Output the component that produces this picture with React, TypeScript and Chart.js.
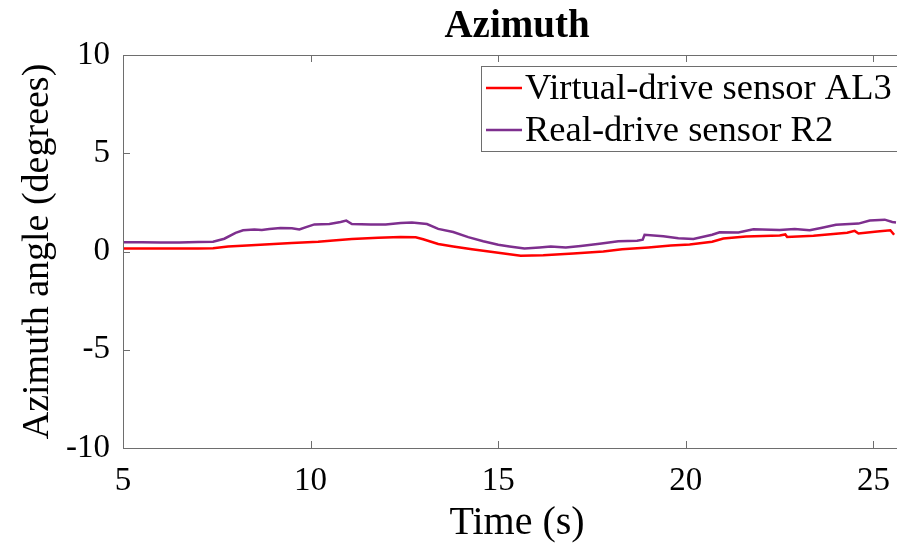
import React, { useEffect, useRef } from "react";
import { Chart, registerables } from "chart.js";

Chart.register(...registerables);

const chartTitle = "Azimuth";
const xAxisTitle = "Time (s)";
const yAxisTitle = "Azimuth angle (degrees)";
const xTickValues = [5, 10, 15, 20, 25];
const yTickValues = [-10, -5, 0, 5, 10];

const redLabel = "Virtual-drive sensor AL3";
const redTimes = [5.0, 5.5, 6.0, 7.0, 7.4, 7.8, 8.3, 8.9, 9.5, 10.2, 10.6, 11.1, 11.8, 12.4, 12.8, 13.0, 13.4, 13.8, 14.3, 14.7, 15.2, 15.6, 16.2, 17.0, 17.8, 18.3, 19.0, 19.6, 20.1, 20.7, 21.0, 21.6, 22.5, 22.65, 22.7, 23.4, 24.3, 24.5, 24.6, 25.1, 25.45, 25.55];
const redValues = [0.15, 0.15, 0.15, 0.15, 0.17, 0.26, 0.3, 0.37, 0.43, 0.5, 0.56, 0.63, 0.7, 0.74, 0.72, 0.62, 0.38, 0.26, 0.12, 0.01, -0.12, -0.21, -0.19, -0.1, 0.0, 0.11, 0.2, 0.3, 0.36, 0.5, 0.66, 0.76, 0.82, 0.87, 0.74, 0.8, 0.95, 1.05, 0.92, 1.02, 1.08, 0.85];

const purpleLabel = "Real-drive sensor R2";
const purpleTimes = [5.0, 5.5, 6.0, 6.5, 7.0, 7.4, 7.7, 8.0, 8.2, 8.5, 8.7, 8.9, 9.2, 9.5, 9.7, 9.9, 10.1, 10.5, 10.8, 10.95, 11.1, 11.6, 12.0, 12.4, 12.7, 12.9, 13.1, 13.4, 13.8, 14.2, 14.6, 15.0, 15.3, 15.7, 16.1, 16.4, 16.8, 17.2, 17.7, 18.2, 18.7, 18.85, 18.9, 19.4, 19.8, 20.2, 20.7, 20.9, 21.4, 21.8, 22.5, 22.9, 23.3, 23.6, 24.0, 24.6, 24.9, 25.3, 25.5, 25.6];
const purpleValues = [0.47, 0.47, 0.46, 0.46, 0.48, 0.5, 0.65, 0.95, 1.08, 1.12, 1.1, 1.14, 1.2, 1.18, 1.12, 1.25, 1.38, 1.4, 1.5, 1.57, 1.4, 1.38, 1.37, 1.45, 1.47, 1.44, 1.4, 1.15, 0.99, 0.73, 0.52, 0.34, 0.26, 0.15, 0.2, 0.25, 0.2, 0.28, 0.4, 0.52, 0.55, 0.6, 0.85, 0.78, 0.68, 0.64, 0.85, 0.98, 0.97, 1.13, 1.1, 1.14, 1.08, 1.2, 1.36, 1.42, 1.58, 1.62, 1.5, 1.48];

const FONT = "'Liberation Serif', 'Times New Roman', serif";
const RED = "#ff0000";
const PURPLE = "#7e2f8e";
const AXIS_GRAY = "#6e6e6e";

const boxAndLegend = {
  id: "boxAndLegend",
  afterDraw(chart: any) {
    const { ctx, chartArea, scales } = chart;
    const { left, right, top, bottom } = chartArea;
    ctx.save();

    // title
    ctx.fillStyle = "#000";
    ctx.font = `bold 39px ${FONT}`;
    ctx.textAlign = "center";
    ctx.textBaseline = "alphabetic";
    ctx.fillText(chartTitle, (left + right) / 2, 37);

    ctx.strokeStyle = AXIS_GRAY;
    ctx.lineWidth = 1;
    ctx.strokeRect(left + 0.5, top + 0.5, right - left, bottom - top);
    const tl = 7;
    ctx.beginPath();
    for (const v of xTickValues) {
      const x = Math.round(scales.x.getPixelForValue(v)) + 0.5;
      ctx.moveTo(x, bottom);
      ctx.lineTo(x, bottom - tl);
      ctx.moveTo(x, top);
      ctx.lineTo(x, top + tl);
    }
    for (const v of yTickValues) {
      const y = Math.round(scales.y.getPixelForValue(v)) + 0.5;
      ctx.moveTo(left, y);
      ctx.lineTo(left + tl, y);
      ctx.moveTo(right, y);
      ctx.lineTo(right - tl, y);
    }
    ctx.stroke();

    // legend
    const lx = 481.5, ly = 66.5, lw = 425, lh = 85;
    ctx.fillStyle = "#ffffff";
    ctx.fillRect(lx, ly, lw, lh);
    ctx.strokeStyle = AXIS_GRAY;
    ctx.strokeRect(lx, ly, lw, lh);
    const entries = [
      { label: redLabel, color: RED, y: 88 },
      { label: purpleLabel, color: PURPLE, y: 130 },
    ];
    ctx.font = `36.5px ${FONT}`;
    ctx.textBaseline = "middle";
    ctx.textAlign = "left";
    for (const e of entries) {
      ctx.strokeStyle = e.color;
      ctx.lineWidth = 2.5;
      ctx.beginPath();
      ctx.moveTo(486, e.y);
      ctx.lineTo(522, e.y);
      ctx.stroke();
      ctx.fillStyle = "#000000";
      ctx.fillText(e.label, 525, e.y + 1);
    }
    ctx.restore();
  },
};

export default function App() {
  const ref = useRef<HTMLCanvasElement | null>(null);
  useEffect(() => {
    if (!ref.current) return;
    const chart = new Chart(ref.current, {
      type: "line",
      data: {
        datasets: [
          {
            label: redLabel,
            data: redTimes.map((t, i) => ({ x: t, y: redValues[i] })),
            borderColor: RED,
            borderWidth: 2.5,
            pointRadius: 0,
            tension: 0,
          },
          {
            label: purpleLabel,
            data: purpleTimes.map((t, i) => ({ x: t, y: purpleValues[i] })),
            borderColor: PURPLE,
            borderWidth: 2.5,
            pointRadius: 0,
            tension: 0,
          },
        ],
      },
      options: {
        animation: false,
        responsive: false,
        maintainAspectRatio: false,
        layout: { padding: { left: 0, right: 19, top: 55, bottom: 0 } },
        plugins: {
          legend: { display: false },
          tooltip: { enabled: false },
          title: { display: false },
        },
        scales: {
          x: {
            type: "linear",
            min: 5,
            max: 26,
            afterBuildTicks: (s: any) => {
              s.ticks = xTickValues.map((v) => ({ value: v }));
            },
            afterFit: (s: any) => {
              s.height = 99;
            },
            grid: { display: false, drawTicks: false },
            border: { display: false },
            ticks: {
              color: "#000",
              font: { family: FONT, size: 33 },
              padding: 14,
              maxRotation: 0,
              autoSkip: false,
            },
            title: {
              display: true,
              text: xAxisTitle,
              color: "#000",
              font: { family: FONT, size: 40, lineHeight: 1.2 },
              padding: { top: 0, bottom: 0 },
            },
          },
          y: {
            type: "linear",
            min: -10,
            max: 10,
            afterBuildTicks: (s: any) => {
              s.ticks = yTickValues.map((v) => ({ value: v }));
            },
            afterFit: (s: any) => {
              s.width = 123;
            },
            grid: { display: false, drawTicks: false },
            border: { display: false },
            ticks: {
              color: "#000",
              font: { family: FONT, size: 33 },
              padding: 13,
              autoSkip: false,
            },
            title: {
              display: true,
              text: yAxisTitle,
              color: "#000",
              font: { family: FONT, size: 38, lineHeight: 1.2 },
              padding: { top: 15, bottom: 0 },
            },
          },
        },
      },
      plugins: [boxAndLegend],
    });
    return () => chart.destroy();
  }, []);
  return (
    <div style={{ position: "absolute", left: 0, top: 0, width: 897, height: 547, overflow: "hidden", background: "#fff" }}>
      <canvas ref={ref} width={930} height={547} style={{ display: "block", width: 930, height: 547 }} />
    </div>
  );
}
